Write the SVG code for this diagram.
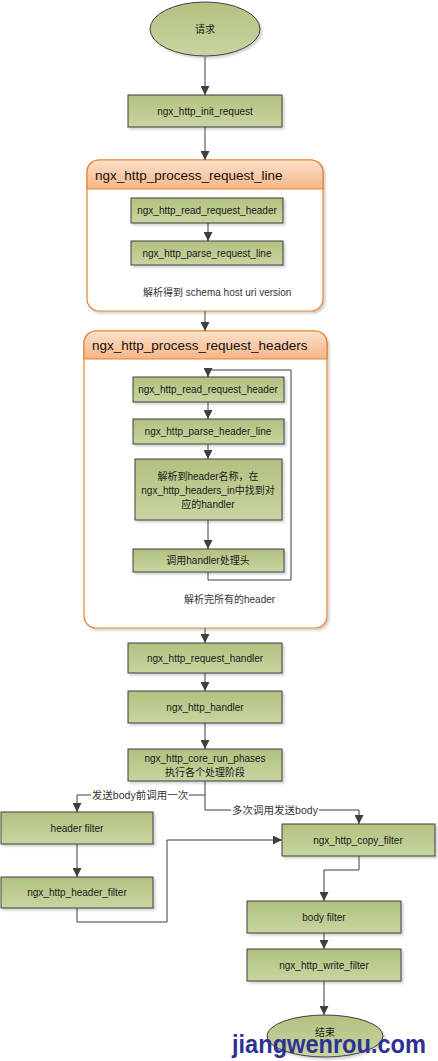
<svg xmlns="http://www.w3.org/2000/svg" width="438" height="1061" viewBox="0 0 438 1061">
<style>
.box{fill:url(#g);stroke:#3f3f3f;stroke-width:1;filter:url(#sh)}
.t{font-family:"Liberation Sans","Noto Sans CJK SC",sans-serif;font-size:10px;fill:#1a1a1a;text-anchor:middle}
.tl{font-family:"Liberation Sans","Noto Sans CJK SC",sans-serif;font-size:10px;fill:#333}
.title{font-family:"Liberation Sans",sans-serif;font-size:13.5px;fill:#111}
.cont{fill:#fff;stroke:#e5832f;stroke-width:1.2;filter:url(#sh)}
.hdr{fill:url(#og);stroke:#e5832f;stroke-width:1.2}
.c{fill:none;stroke:#3f3f3f;stroke-width:1}
.a{marker-end:url(#ar)}
.lbl{font-family:"Liberation Sans","Noto Sans CJK SC",sans-serif;font-size:10.5px;fill:#333;text-anchor:middle}
</style>
<defs>
<linearGradient id="g" x1="0" y1="0" x2="0" y2="1"><stop offset="0" stop-color="#b2c180"/><stop offset="1" stop-color="#c8d5a1"/></linearGradient>
<linearGradient id="og" x1="0" y1="0" x2="0" y2="1"><stop offset="0" stop-color="#fbe0cb"/><stop offset="1" stop-color="#f6b586"/></linearGradient>
<filter id="sh" x="-10%" y="-10%" width="125%" height="130%"><feDropShadow dx="2" dy="2" stdDeviation="1" flood-color="#000" flood-opacity="0.18"/></filter>
<marker id="ar" markerUnits="userSpaceOnUse" markerWidth="9" markerHeight="9" refX="9" refY="4.5" orient="auto"><path d="M0,0 L9,4.5 L0,9 z" fill="#3f3f3f"/></marker>
</defs>
<rect width="438" height="1061" fill="#fff"/>

<g id="process_request_line">
<rect class="cont" x="87" y="160" width="236" height="151" rx="12"/>
<path class="hdr" d="M87,189 V172 A12,12 0 0 1 99,160 H311 A12,12 0 0 1 323,172 V189 Z"/>
<text class="title" x="95" y="180">ngx_http_process_request_line</text>
</g>
<g id="process_request_headers">
<rect class="cont" x="84" y="331" width="243" height="297" rx="12"/>
<path class="hdr" d="M84,359 V343 A12,12 0 0 1 96,331 H315 A12,12 0 0 1 327,343 V359 Z"/>
<text class="title" x="92" y="350">ngx_http_process_request_headers</text>
</g>

<g id="start">
<ellipse cx="205" cy="29" rx="55" ry="27" fill="url(#g)" stroke="#3f3f3f" filter="url(#sh)"/>
<text class="t" x="205" y="33">请求</text>
</g>
<g id="init_request">
<rect class="box" x="128" y="95" width="154" height="32"/>
<text class="t" x="205" y="115">ngx_http_init_request</text>
</g>
<g id="prl_read">
<rect class="box" x="131" y="198" width="152" height="25"/>
<text class="t" x="207" y="214">ngx_http_read_request_header</text>
</g>
<g id="prl_parse">
<rect class="box" x="131" y="241" width="152" height="24"/>
<text class="t" x="207" y="257">ngx_http_parse_request_line</text>
</g>
<g id="prl_note">
<text class="tl" x="143" y="296">解析得到 schema host uri version</text>
</g>
<g id="prh_read">
<rect class="box" x="133" y="377" width="151" height="25"/>
<text class="t" x="208" y="393">ngx_http_read_request_header</text>
</g>
<g id="prh_parse">
<rect class="box" x="133" y="419" width="151" height="25"/>
<text class="t" x="208" y="435">ngx_http_parse_header_line</text>
</g>
<g id="prh_lookup">
<rect class="box" x="135" y="459" width="147" height="61"/>
<text class="t" x="208" y="480">解析到header名称，在</text>
<text class="t" x="208" y="494">ngx_http_headers_in中找到对</text>
<text class="t" x="208" y="508">应的handler</text>
</g>
<g id="prh_call">
<rect class="box" x="133" y="549" width="151" height="23"/>
<text class="t" x="208" y="564">调用handler处理头</text>
</g>
<g id="prh_note">
<text class="tl" x="184" y="603">解析完所有的header</text>
</g>
<g id="request_handler">
<rect class="box" x="128" y="643" width="154" height="30"/>
<text class="t" x="205" y="662">ngx_http_request_handler</text>
</g>
<g id="http_handler">
<rect class="box" x="128" y="691" width="154" height="32"/>
<text class="t" x="205" y="711">ngx_http_handler</text>
</g>
<g id="core_run_phases">
<rect class="box" x="128" y="749" width="154" height="32"/>
<text class="t" x="205" y="762">ngx_http_core_run_phases</text>
<text class="t" x="205" y="776">执行各个处理阶段</text>
</g>
<g id="header_filter">
<rect class="box" x="1" y="812" width="152" height="32"/>
<text class="t" x="77" y="832">header filter</text>
</g>
<g id="ngx_http_header_filter">
<rect class="box" x="1" y="877" width="152" height="31"/>
<text class="t" x="77" y="896">ngx_http_header_filter</text>
</g>
<g id="copy_filter">
<rect class="box" x="282" y="824" width="153" height="32"/>
<text class="t" x="358" y="844">ngx_http_copy_filter</text>
</g>
<g id="body_filter">
<rect class="box" x="247" y="901" width="154" height="32"/>
<text class="t" x="324" y="921">body filter</text>
</g>
<g id="write_filter">
<rect class="box" x="247" y="949" width="154" height="32"/>
<text class="t" x="324" y="969">ngx_http_write_filter</text>
</g>
<g id="end">
<ellipse cx="325" cy="1036" rx="58" ry="21" fill="url(#g)" stroke="#3f3f3f" filter="url(#sh)"/>
<text class="t" x="325" y="1036">结束</text>
</g>

<g id="connectors">
<path class="c a" d="M205,57 V95"/>
<path class="c a" d="M205,127 V160"/>
<path class="c a" d="M208,223 V241"/>
<path class="c a" d="M205,311 V331"/>
<path class="c a" d="M208,572 V580 H291 V370 H208 V377"/>
<path class="c a" d="M208,402 V419"/>
<path class="c a" d="M208,444 V459"/>
<path class="c a" d="M208,520 V549"/>
<path class="c a" d="M205,628 V643"/>
<path class="c a" d="M205,673 V691"/>
<path class="c a" d="M205,723 V749"/>
<path class="c a" d="M205,781 V810 H359 V824"/>
<path class="c a" d="M205,795 H77 V812"/>
<path class="c a" d="M77,844 V877"/>
<path class="c a" d="M77,908 V922 H167 V840 H282"/>
<path class="c a" d="M359,856 V870 H324 V901"/>
<path class="c a" d="M324,933 V949"/>
<path class="c a" d="M324,981 V1015"/>
<rect x="91" y="788" width="98" height="14" fill="#fff"/>
<text class="lbl" x="140" y="799">发送body前调用一次</text>
<rect x="231" y="803" width="88" height="14" fill="#fff"/>
<text class="lbl" x="275" y="814">多次调用发送body</text>
</g>

<g id="watermark">
<text x="232" y="1053" font-family="Liberation Sans, sans-serif" font-weight="bold" font-size="25" fill="#2e3192" textLength="194" lengthAdjust="spacingAndGlyphs">jiangwenrou.com</text>
</g>
</svg>
